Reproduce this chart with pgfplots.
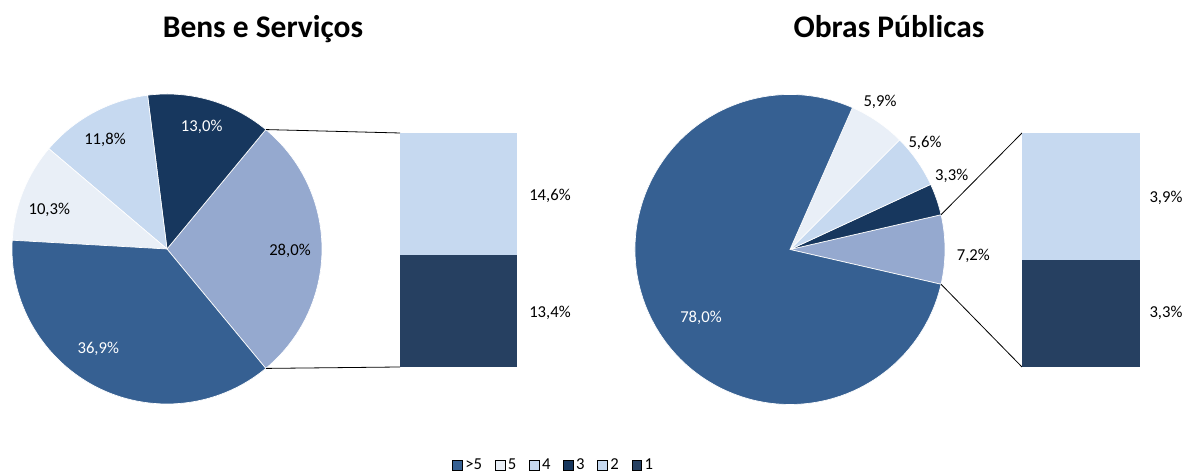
\documentclass[border=0pt]{standalone}
\usepackage{pgfplots}
\pgfplotsset{compat=1.18}
\usepackage{fontspec}
\setmainfont{Carlito}
\definecolor{cA}{RGB}{54,96,146}   % >5
\definecolor{c5}{RGB}{233,239,247} % 5
\definecolor{c4}{RGB}{198,217,240} % 4
\definecolor{c3}{RGB}{23,55,94}    % 3
\definecolor{c2}{RGB}{198,217,240} % 2
\definecolor{c1}{RGB}{38,64,97}    % 1
\definecolor{cO}{RGB}{149,169,207} % other (2+1)
\newcommand{\lblfont}{\fontsize{12.5}{15}\selectfont}
\begin{document}
\begin{tikzpicture}
\useasboundingbox (0,0) rectangle (892.5pt,354.75pt);
% ---------- main axis in pixel coordinates ----------
\begin{axis}[at={(0,0)}, anchor=south west, x=0.75pt, y=0.75pt,
  xmin=0, xmax=1190, ymin=0, ymax=473, hide axis, clip=false,
  legend image code/.code={\fill[#1] (0pt,-3.7pt) rectangle (7.4pt,3.7pt);},
  legend style={at={(axis cs:554,8)}, anchor=center, draw=none, fill=none,
    legend columns=6, font=\lblfont, inner sep=0pt,
    /tikz/every even column/.append style={column sep=7.5pt}},
  legend cell align=left]
\addlegendimage{fill=cA}\addlegendentry{>5}
\addlegendimage{fill=c5}\addlegendentry{5}
\addlegendimage{fill=c4}\addlegendentry{4}
\addlegendimage{fill=c3}\addlegendentry{3}
\addlegendimage{fill=c2}\addlegendentry{2}
\addlegendimage{fill=c1}\addlegendentry{1}
\pgfplotsextra{
  % left pie: values in %, start so that the "other" slice is centred on the right
  \xdef\pieA{-50.4}
  \foreach \v/\c in {28.0/cO,13.0/c3,11.8/c4,10.3/c5,36.9/cA}{
    \pgfmathsetmacro\pieB{\pieA+3.6*\v}
    \fill[\c, draw=white, line width=0.5pt] (axis cs:167,224) -- ++(\pieA:116.25pt)
      arc[start angle=\pieA, end angle=\pieB, radius=116.25pt] -- cycle;
    \xdef\pieA{\pieB}
  }
  \draw[black, line width=0.6pt] (axis cs:167,224) ++(50.4:116.25pt) -- (axis cs:400,340);
  \draw[black, line width=0.6pt] (axis cs:167,224) ++(-50.4:116.25pt) -- (axis cs:400,106);
  % right pie
  \xdef\pieA{-12.96}
  \foreach \v/\c in {7.2/cO,3.3/c3,5.6/c4,5.9/c5,78.0/cA}{
    \pgfmathsetmacro\pieB{\pieA+3.6*\v}
    \fill[\c, draw=white, line width=0.5pt] (axis cs:790,223.5) -- ++(\pieA:116.25pt)
      arc[start angle=\pieA, end angle=\pieB, radius=116.25pt] -- cycle;
    \xdef\pieA{\pieB}
  }
  \draw[black, line width=0.6pt] (axis cs:790,223.5) ++(12.96:116.25pt) -- (axis cs:1022,340);
  \draw[black, line width=0.6pt] (axis cs:790,223.5) ++(-12.96:116.25pt) -- (axis cs:1022,106);
}
% titles
\node[font=\bfseries\fontsize{23.6}{28}\selectfont, anchor=base] at (axis cs:263,435) {Bens e Serviços};
\node[font=\bfseries\fontsize{23.6}{28}\selectfont, anchor=base] at (axis cs:889,435) {Obras Públicas};
% data labels, left
\node[font=\lblfont, text=white] at (axis cs:201.7,346.3) {13,0\%};
\node[font=\lblfont] at (axis cs:105,333) {11,8\%};
\node[font=\lblfont] at (axis cs:49.3,263) {10,3\%};
\node[font=\lblfont] at (axis cs:290,222) {28,0\%};
\node[font=\lblfont, text=white] at (axis cs:98.3,123.7) {36,9\%};
\node[font=\lblfont] at (axis cs:550,277) {14,6\%};
\node[font=\lblfont] at (axis cs:550,160.3) {13,4\%};
% data labels, right
\node[font=\lblfont] at (axis cs:880,371.3) {5,9\%};
\node[font=\lblfont] at (axis cs:925,330.3) {5,6\%};
\node[font=\lblfont] at (axis cs:951.7,297) {3,3\%};
\node[font=\lblfont] at (axis cs:973.3,217) {7,2\%};
\node[font=\lblfont, text=white] at (axis cs:701,154.7) {78,0\%};
\node[font=\lblfont] at (axis cs:1166,275) {3,9\%};
\node[font=\lblfont] at (axis cs:1166,160) {3,3\%};
\end{axis}
% ---------- left bar (breakdown of 28,0%) ----------
\begin{axis}[at={(300pt,79.5pt)}, anchor=south west, scale only axis,
  width=87.75pt, height=175.5pt, xmin=-0.5, xmax=0.5, ymin=0, ymax=28,
  hide axis, ybar stacked, bar width=87.75pt]
\addplot[fill=c1, draw=none] coordinates {(0,13.4)};
\addplot[fill=c2, draw=none] coordinates {(0,14.6)};
\end{axis}
% ---------- right bar (breakdown of 7,2%) ----------
\begin{axis}[at={(766.5pt,79.5pt)}, anchor=south west, scale only axis,
  width=88.5pt, height=175.5pt, xmin=-0.5, xmax=0.5, ymin=0, ymax=7.2,
  hide axis, ybar stacked, bar width=88.5pt]
\addplot[fill=c1, draw=none] coordinates {(0,3.3)};
\addplot[fill=c2, draw=none] coordinates {(0,3.9)};
\end{axis}
\end{tikzpicture}
\end{document}
